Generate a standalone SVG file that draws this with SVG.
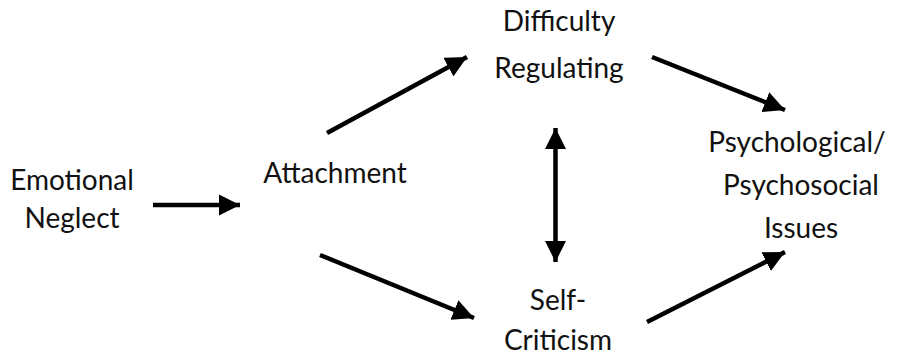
<svg xmlns="http://www.w3.org/2000/svg" width="899" height="360" viewBox="0 0 899 360">
  <defs>
    <marker id="head" viewBox="0 0 10 10" refX="10" refY="5" markerWidth="4.7" markerHeight="4.7" markerUnits="strokeWidth" orient="auto-start-reverse">
      <path d="M0,0 L10,5 L0,10 Z" fill="#000"/>
    </marker>
  </defs>
  <style>
    .lbl { font-family: Lato, "Open Sans", sans-serif; font-size: 28px; fill: #111; text-anchor: middle; }
    .edge { stroke: #000; stroke-width: 4.5; fill: none; marker-end: url(#head); }
    .both { marker-start: url(#head); }
  </style>
  <rect width="899" height="360" fill="#fff"/>

  <g id="neglect">
    <text class="lbl" x="72" y="190">Emotional</text>
    <text class="lbl" x="72" y="228">Neglect</text>
  </g>
  <g id="attachment">
    <text class="lbl" x="335" y="183">Attachment</text>
  </g>
  <g id="regulating">
    <text class="lbl" x="559" y="31">Difficulty</text>
    <text class="lbl" x="559" y="78">Regulating</text>
  </g>
  <g id="outcomes">
    <text class="lbl" x="797" y="152">Psychological/</text>
    <text class="lbl" x="801" y="195">Psychosocial</text>
    <text class="lbl" x="801" y="238">Issues</text>
  </g>
  <g id="selfcriticism">
    <text class="lbl" x="558" y="310">Self-</text>
    <text class="lbl" x="558" y="350">Criticism</text>
  </g>

  <g id="connectors">
    <line class="edge" x1="153" y1="205" x2="240" y2="205"/>
    <line class="edge" x1="327" y1="133" x2="467" y2="57"/>
    <line class="edge" x1="320" y1="255" x2="474" y2="318"/>
    <line class="edge" x1="652" y1="57" x2="785" y2="110"/>
    <line class="edge" x1="647" y1="322" x2="785" y2="252"/>
    <line class="edge both" x1="555.5" y1="128" x2="555.5" y2="262"/>
  </g>
</svg>
